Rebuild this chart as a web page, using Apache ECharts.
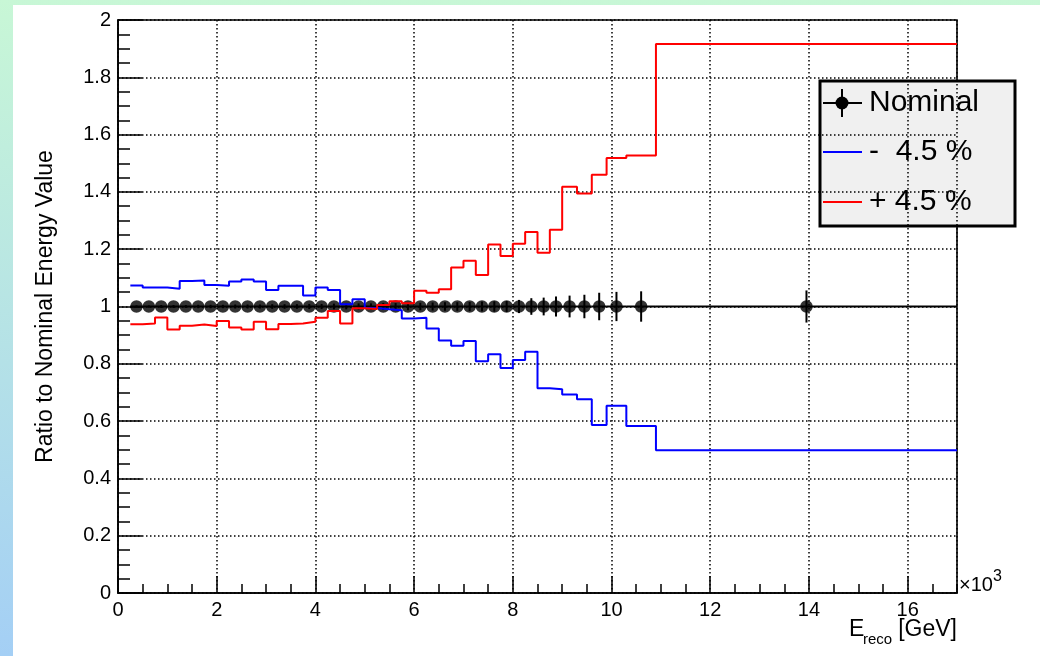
<!DOCTYPE html>
<html>
<head>
<meta charset="utf-8">
<script src="https://cdn.jsdelivr.net/npm/echarts@6/dist/echarts.min.js"></script>
<style>
html, body { margin: 0; padding: 0; }
#chart { width: 1040px; height: 656px; }
</style>
</head>
<body>
<div id="chart"></div>
<script>
// Reconstructed-energy bin edges, in units of 10^3 GeV
const binEdges = [
  0.25, 0.5, 0.75, 1.0, 1.25, 1.5, 1.75, 2.0, 2.25, 2.5, 2.75, 3.0,
  3.25, 3.5, 3.75, 4.0, 4.25, 4.5, 4.75, 5.0, 5.25, 5.5, 5.75, 6.0,
  6.25, 6.5, 6.75, 7.0, 7.25, 7.5, 7.75, 8.0, 8.25, 8.5, 8.75, 9.0,
  9.3, 9.6, 9.9, 10.3, 10.9, 17.0
];

// Ratio to nominal for the energy scale shifted down by 4.5 %
const ratioMinus = [
  1.073, 1.066, 1.066, 1.062, 1.089, 1.091, 1.075, 1.072, 1.087, 1.094, 1.087,
  1.058, 1.072, 1.072, 1.038, 1.066, 1.058, 1.008, 1.025, 0.995, 0.990, 0.987,
  0.958, 0.961, 0.923, 0.881, 0.863, 0.880, 0.809, 0.833, 0.785, 0.813, 0.842,
  0.715, 0.711, 0.693, 0.676, 0.586, 0.654, 0.583, 0.498
];

// Ratio to nominal for the energy scale shifted up by 4.5 %
const ratioPlus = [
  0.938, 0.941, 0.962, 0.920, 0.933, 0.937, 0.932, 0.949, 0.927, 0.920, 0.947,
  0.921, 0.939, 0.941, 0.947, 0.961, 0.984, 0.941, 0.994, 0.991, 1.005, 1.018,
  1.011, 1.055, 1.048, 1.060, 1.136, 1.160, 1.110, 1.216, 1.176, 1.219, 1.260,
  1.188, 1.268, 1.418, 1.394, 1.460, 1.518, 1.527, 1.916
];

// Nominal histogram divided by itself, with its statistical uncertainty
const nominalRatio = [
  1, 1, 1, 1, 1, 1, 1, 1, 1, 1, 1, 1, 1, 1, 1, 1, 1, 1, 1, 1, 1,
  1, 1, 1, 1, 1, 1, 1, 1, 1, 1, 1, 1, 1, 1, 1, 1, 1, 1, 1, 1
];
const nominalError = [
  0.004, 0.004, 0.005, 0.005, 0.005, 0.006, 0.006, 0.006, 0.007, 0.007, 0.007,
  0.008, 0.008, 0.008, 0.009, 0.009, 0.010, 0.010, 0.011, 0.011, 0.012, 0.012,
  0.013, 0.013, 0.014, 0.015, 0.015, 0.016, 0.017, 0.018, 0.019, 0.023, 0.029,
  0.031, 0.035, 0.038, 0.041, 0.048, 0.051, 0.053, 0.056
];

const seriesNames = ['Nominal', '-  4.5 %', '+ 4.5 %'];
const FONT = '"Liberation Sans", Arial, Helvetica, sans-serif';

// Histogram outline: one point per lower edge, plus the last upper edge
function stepPoints(values) {
  const pts = values.map((v, i) => [binEdges[i], v]);
  pts.push([binEdges[binEdges.length - 1], values[values.length - 1]]);
  return pts;
}

const nominalBins = nominalRatio.map((v, i) => [binEdges[i], binEdges[i + 1], v, nominalError[i]]);
const nominalCenters = nominalRatio.map((v, i) => [(binEdges[i] + binEdges[i + 1]) / 2, v]);

const chart = echarts.init(document.getElementById('chart'), null, { renderer: 'canvas' });

const dotted = { color: '#000', width: 1.5, type: [1.5, 2.5] };

chart.setOption({
  animation: false,
  backgroundColor: new echarts.graphic.LinearGradient(0, 0, 0, 1, [
    { offset: 0, color: '#c8f7d6' },
    { offset: 1, color: '#a4cff5' }
  ]),
  textStyle: { fontFamily: FONT },
  grid: {
    left: 118, top: 20, width: 839, height: 573,
    show: true, borderColor: '#000', borderWidth: 1.6, backgroundColor: '#fff'
  },
  xAxis: [
    {
      type: 'value', min: 0, max: 17, interval: 2,
      axisLine: { show: true, onZero: false, lineStyle: { color: '#000', width: 1.6 } },
      axisTick: { show: true, inside: true, length: 17, lineStyle: { color: '#000', width: 1.5 } },
      axisLabel: {
        show: true, color: '#000', fontSize: 20, fontFamily: FONT, margin: 7,
        showMaxLabel: false, formatter: v => String(v)
      },
      splitLine: { show: true, lineStyle: dotted }
    },
    {
      // finer ticks every 500 GeV
      type: 'value', min: 0, max: 17, interval: 0.5, position: 'bottom',
      axisLine: { show: false },
      axisTick: { show: true, inside: true, length: 9, lineStyle: { color: '#000', width: 1.5 } },
      axisLabel: { show: false },
      splitLine: { show: false }
    }
  ],
  yAxis: {
    type: 'value', min: 0, max: 2, interval: 0.2,
    name: 'Ratio to Nominal Energy Value',
    nameLocation: 'middle', nameRotate: 90, nameGap: 61,
    nameTextStyle: { color: '#000', fontSize: 23, fontFamily: FONT },
    axisLine: { show: true, onZero: false, lineStyle: { color: '#000', width: 1.6 } },
    axisTick: { show: true, inside: true, length: 24, lineStyle: { color: '#000', width: 1.5 } },
    minorTick: { show: true, splitNumber: 4, length: 12, lineStyle: { color: '#000', width: 1.5 } },
    axisLabel: { show: true, color: '#000', fontSize: 20, fontFamily: FONT, margin: 7 },
    splitLine: { show: true, lineStyle: dotted }
  },
  series: [
    {
      name: seriesNames[0],
      type: 'custom',
      xAxisIndex: 0,
      z: 2,
      data: nominalBins,
      encode: { x: [0, 1], y: [2] },
      renderItem: function (params, api) {
        const lo = api.value(0), hi = api.value(1), y = api.value(2), err = api.value(3);
        const c = (lo + hi) / 2;
        const pL = api.coord([lo, y]);
        const pR = api.coord([hi, y]);
        const pT = api.coord([c, y + err]);
        const pB = api.coord([c, y - err]);
        const style = { stroke: '#000', lineWidth: 2 };
        return {
          type: 'group',
          children: [
            { type: 'line', shape: { x1: pL[0], y1: pL[1], x2: pR[0], y2: pR[1] }, style: style },
            { type: 'line', shape: { x1: pT[0], y1: pT[1], x2: pB[0], y2: pB[1] }, style: style }
          ]
        };
      }
    },
    {
      name: seriesNames[0],
      type: 'scatter',
      xAxisIndex: 0,
      z: 3,
      symbol: 'circle',
      symbolSize: 12.5,
      itemStyle: { color: '#000' },
      data: nominalCenters
    },
    {
      name: seriesNames[1],
      type: 'line',
      xAxisIndex: 0,
      z: 4,
      step: 'end',
      showSymbol: false,
      lineStyle: { color: '#0000ff', width: 2 },
      data: stepPoints(ratioMinus)
    },
    {
      name: seriesNames[2],
      type: 'line',
      xAxisIndex: 0,
      z: 4,
      step: 'end',
      showSymbol: false,
      lineStyle: { color: '#ff0000', width: 2 },
      data: stepPoints(ratioPlus)
    }
  ],
  graphic: [
    // white pad
    { type: 'rect', z: -10, shape: { x: 13, y: 5, width: 1027, height: 651 }, style: { fill: '#fff' } },
    // axis title with subscript
    { type: 'text', z: 10, x: 849, y: 630, style: { text: 'E', font: '23px ' + FONT, fill: '#000', align: 'left', verticalAlign: 'middle' } },
    { type: 'text', z: 10, x: 863, y: 640, style: { text: 'reco', font: '15px ' + FONT, fill: '#000', align: 'left', verticalAlign: 'middle' } },
    { type: 'text', z: 10, x: 957, y: 630, style: { text: '[GeV]', font: '23px ' + FONT, fill: '#000', align: 'right', verticalAlign: 'middle' } },
    // axis multiplier
    { type: 'text', z: 10, x: 959, y: 585, style: { text: '\u00d710', font: '20px ' + FONT, fill: '#000', align: 'left', verticalAlign: 'middle' } },
    { type: 'text', z: 10, x: 993, y: 577, style: { text: '3', font: '16px ' + FONT, fill: '#000', align: 'left', verticalAlign: 'middle' } },
    // legend box
    {
      type: 'group', z: 100,
      children: [
        { type: 'rect', shape: { x: 820, y: 81, width: 195, height: 145 }, style: { fill: '#f0f0f0', stroke: '#000', lineWidth: 3 } },
        { type: 'line', shape: { x1: 823, y1: 103, x2: 862, y2: 103 }, style: { stroke: '#000', lineWidth: 2 } },
        { type: 'line', shape: { x1: 842, y1: 89, x2: 842, y2: 117 }, style: { stroke: '#000', lineWidth: 2 } },
        { type: 'circle', shape: { cx: 842, cy: 103, r: 6.5 }, style: { fill: '#000' } },
        { type: 'text', x: 869, y: 103, style: { text: seriesNames[0], font: '30px ' + FONT, fill: '#000', align: 'left', verticalAlign: 'middle' } },
        { type: 'line', shape: { x1: 823, y1: 152, x2: 862, y2: 152 }, style: { stroke: '#0000ff', lineWidth: 2 } },
        { type: 'text', x: 869, y: 152, style: { text: seriesNames[1], font: '30px ' + FONT, fill: '#000', align: 'left', verticalAlign: 'middle' } },
        { type: 'line', shape: { x1: 823, y1: 202, x2: 862, y2: 202 }, style: { stroke: '#ff0000', lineWidth: 2 } },
        { type: 'text', x: 869, y: 202, style: { text: seriesNames[2], font: '30px ' + FONT, fill: '#000', align: 'left', verticalAlign: 'middle' } }
      ]
    }
  ]
});
</script>
</body>
</html>
